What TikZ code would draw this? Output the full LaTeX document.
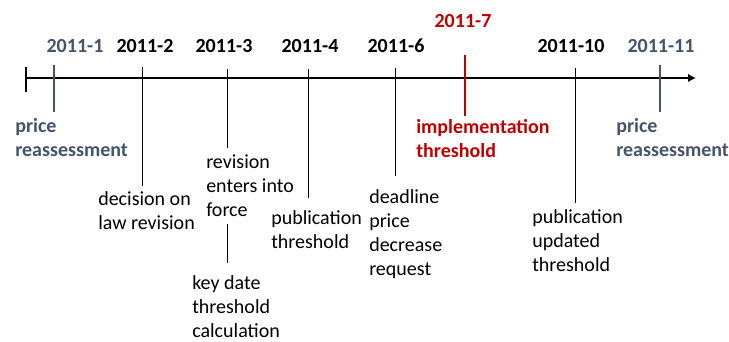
\documentclass[tikz,border=0pt]{standalone}
\usepackage{fontspec}
\setmainfont{Carlito}
\usetikzlibrary{positioning, arrows.meta}
\definecolor{slate}{HTML}{44546A}
\definecolor{darkred}{HTML}{C00000}
\tikzset{
    every node/.style={font=\fontsize{15}{18}\selectfont},
    date/.style={font=\fontsize{15}{18}\selectfont\bfseries, anchor=base, inner sep=0pt},
    note/.style={align=left, anchor=base west, inner sep=0pt},
    dateline/.style={line width=0.75pt},
    keyline/.style={line width=1.5pt},
}

\begin{document}
\begin{tikzpicture}[x=0.75pt, y=-0.75pt]
    \useasboundingbox (0,0) rectangle (729,342);
    \coordinate (start) at (26,78);
    \coordinate (end) at (696,78);
    \coordinate (starttop) at (26,67);
    \coordinate (startbot) at (26,92);
    \draw[line width=1.5pt, -{Latex[length=6pt, width=6.5pt]}] (start) -- (end);
    \draw[keyline] (starttop) -- (startbot);

    \node[date, slate] (m1) at (75,53) {2011-1};
    \node[date] (m2) at (145,53) {2011-2};
    \node[date] (m3) at (224,53) {2011-3};
    \node[date] (m4) at (310,53) {2011-4};
    \node[date] (m6) at (396,53) {2011-6};
    \node[date, darkred] (m7) at (463,28) {2011-7};
    \node[date] (m10) at (571,53) {2011-10};
    \node[date, slate] (m11) at (661,53) {2011-11};

    % base anchor sits on the last line
    \node[note, slate, font=\fontsize{15}{18}\selectfont\bfseries] (p1) at (15,157) {price\\reassessment};
    \node[note] (d2) at (98,230) {decision on\\law revision};
    \node[note] (r3) at (206,217) {revision\\enters into\\force};
    \node[note] (k3) at (192,338) {key date\\threshold\\calculation};
    \node[note] (p4) at (271,249) {publication\\threshold};
    \node[note] (d6) at (369,276) {deadline\\price\\decrease\\request};
    \node[note, darkred, font=\fontsize{15}{18}\selectfont\bfseries] (i7) at (416,158) {implementation\\threshold};
    \node[note] (p10) at (532,272) {publication\\updated\\threshold};
    \node[note, slate, font=\fontsize{15}{18}\selectfont\bfseries] (p11) at (616,157) {price\\reassessment};

    \coordinate (t1a) at (54,65);   \coordinate (t1b) at (54,112);
    \coordinate (t2a) at (142,67);  \coordinate (t2b) at (142,186);
    \coordinate (t3a) at (227,69);  \coordinate (t3b) at (227,148);
    \coordinate (t3c) at (227,224); \coordinate (t3d) at (227,263);
    \coordinate (t4a) at (308,69);  \coordinate (t4b) at (308,198);
    \coordinate (t6a) at (395,68);  \coordinate (t6b) at (395,176);
    \coordinate (t7a) at (465,55);  \coordinate (t7b) at (465,116);
    \coordinate (t10a) at (575,68); \coordinate (t10b) at (575,203);
    \coordinate (t11a) at (660,65); \coordinate (t11b) at (660,112);

    \draw[keyline, slate] (t1a) -- (t1b);
    \draw[dateline] (t2a) -- (t2b);
    \draw[dateline] (t3a) -- (t3b);
    \draw[dateline] (t3c) -- (t3d);
    \draw[dateline] (t4a) -- (t4b);
    \draw[dateline] (t6a) -- (t6b);
    \draw[keyline, darkred] (t7a) -- (t7b);
    \draw[dateline] (t10a) -- (t10b);
    \draw[keyline, slate] (t11a) -- (t11b);
\end{tikzpicture}
\end{document}
